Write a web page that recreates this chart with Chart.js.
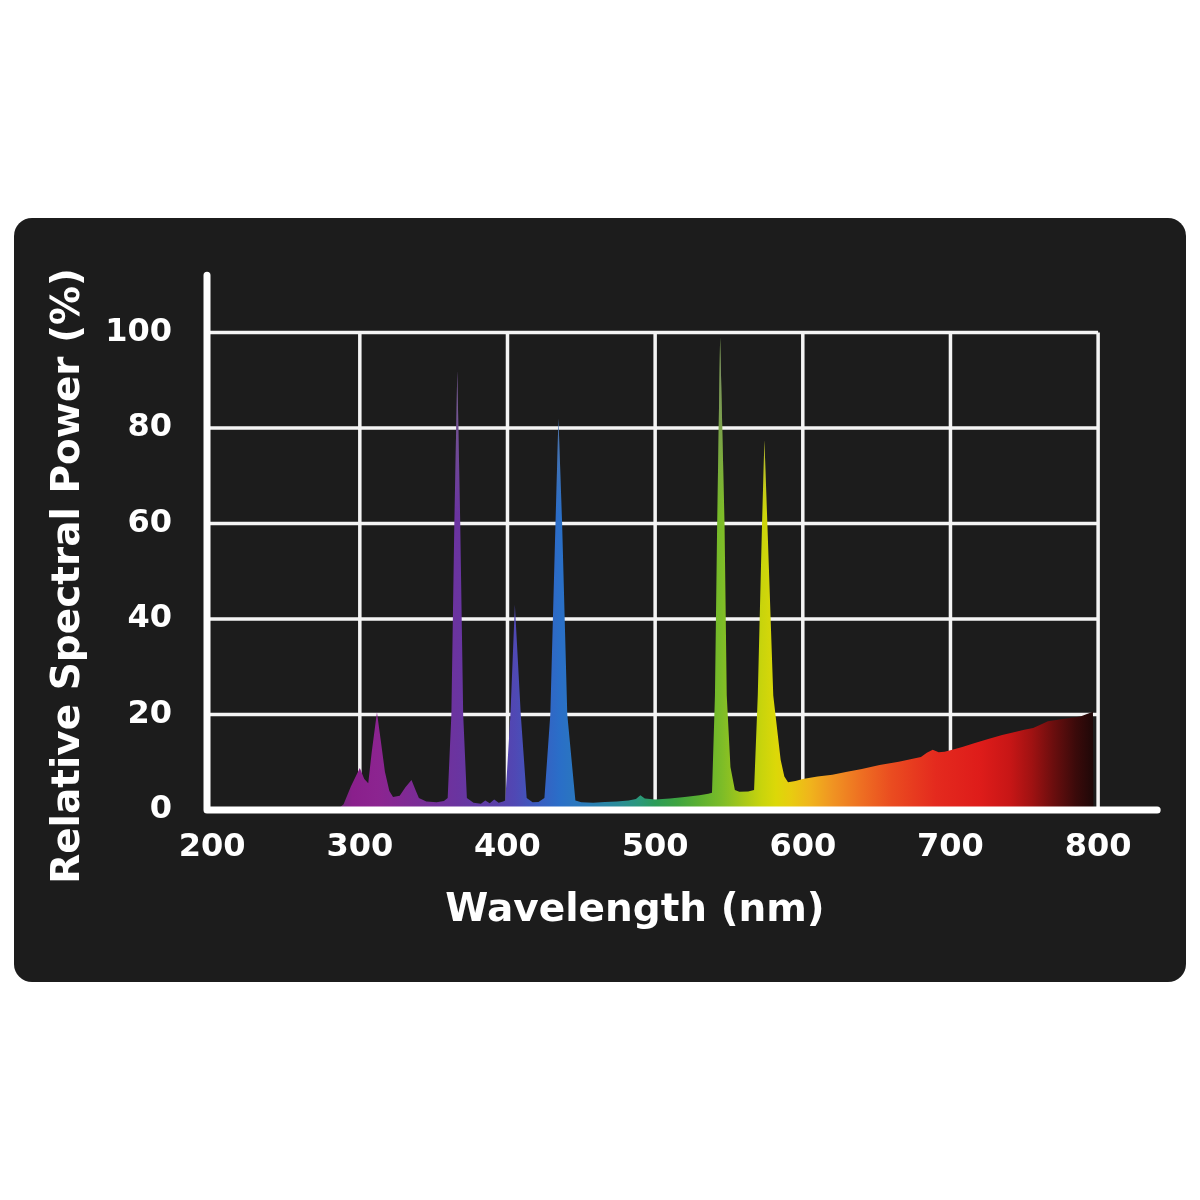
<!DOCTYPE html>
<html>
<head>
<meta charset="utf-8">
<script src="https://cdn.jsdelivr.net/npm/chart.js@4.4.1/dist/chart.umd.min.js"></script>
<style>
  html, body { margin: 0; padding: 0; background: #ffffff; overflow: hidden; }
  canvas { display: block; }
</style>
</head>
<body>
<canvas id="spectrumGraph" width="1200" height="1200"></canvas>
<script>
// spectrum: wavelength (nm) -> relative power (%)
const wavelengths = [
    200, 240, 280, 286, 289, 294, 300, 303, 305.7, 308, 311.6, 314, 317, 320, 322.5,
    327, 331, 335, 338, 340, 345, 352, 357,
    359.5, 362, 364, 366, 368, 370, 372.5,
    377, 382, 385, 388, 391, 394, 397,
    398.5, 402, 405, 409, 413, 417, 421,
    425, 429, 432.5, 434.5, 437, 440.5, 446,
    450, 458, 466, 474, 482, 487, 490, 493, 500, 510, 520, 530, 536,
    538.5, 540.5, 542, 544, 547, 548.5, 551, 554,
    557, 563, 567, 569.5, 572.4, 574, 576, 580, 585, 587.5, 590,
    595, 600, 610, 620, 630, 640, 652, 665, 680, 684, 688, 692, 696, 700,
    708, 716, 725, 735, 743, 750, 756, 762, 766, 775, 782, 788, 796.5, 797
];
const power = [
    0.2, 0.3, 0.4, 0.4, 1.2, 5, 8.8, 6.5, 5.6, 12, 20.5, 15, 8, 4, 2.7,
    3, 4.8, 6.3, 4, 2.5, 1.8, 1.6, 1.9,
    2.5, 20, 60, 92, 60, 20, 2.5,
    1.5, 1.3, 2, 1.4, 2.2, 1.5, 1.8,
    2, 20, 43, 20, 2.5, 1.6, 1.7,
    2.5, 20, 60, 82, 60, 20, 2,
    1.6, 1.5, 1.7, 1.8, 2, 2.3, 3.1, 2.4, 2.2, 2.4, 2.7, 3.1, 3.4,
    3.6, 24, 60, 99, 60, 24, 9, 4.2,
    3.8, 3.9, 4.2, 24, 60, 77.5, 60, 24, 10.5, 7, 5.8,
    6.1, 6.5, 7, 7.4, 8, 8.6, 9.4, 10.1, 11.1, 12, 12.6, 12.1, 12.2, 12.5,
    13.2, 14, 14.8, 15.7, 16.3, 16.8, 17.2, 18, 18.6, 19, 19.3, 19.6, 20.6, 0
];

const xTicks = [200, 300, 400, 500, 600, 700, 800];
const yTicks = [0, 20, 40, 60, 80, 100];

// colour of the fill along the wavelength axis
const spectrumStops = [285, 295, 312, 340, 366, 390, 405, 420, 435, 455, 475, 490, 500, 515, 530, 545,
    560, 572, 582, 592, 605, 620, 640, 660, 690, 720, 740, 755, 770, 785, 797];
const spectrumColors = ['#6b2a7a', '#8a1f8c', '#8c2490', '#7a2c96', '#6a34a0', '#5c3ea8', '#5048b4',
    '#3a5cc0', '#2a6ec8', '#2a7eb8', '#2a8c98', '#2a9878', '#2c9c58', '#3ea440', '#5cb030', '#7cbc28',
    '#a8c818', '#c8d40c', '#dcd808', '#e8cc10', '#f0b41c', '#f09422', '#ee6e22', '#ea4c20', '#e42a1e',
    '#de1c1a', '#c81616', '#a01212', '#6a0e0e', '#3a0a0a', '#1e0808'];

const xMin = 196.5;
const xMax = 869;
const yMax = 124;
const axisTop = 112;
const axisRight = 840;

const points = wavelengths.map((w, i) => ({x: w, y: power[i]}));

Chart.defaults.font.family = "'DejaVu Sans', sans-serif";
Chart.defaults.color = '#ffffff';

const cardBackground = {
    id: 'cardBackground',
    beforeDraw(chart) {
        const ctx = chart.ctx;
        ctx.save();
        ctx.fillStyle = '#1c1c1c';
        ctx.beginPath();
        ctx.roundRect(14, 218, 1172, 764, 18);
        ctx.fill();
        ctx.restore();
    }
};

// white grid boxed in 200-800 / 0-100, under the spectrum
const gridBox = {
    id: 'gridBox',
    beforeDatasetsDraw(chart) {
        const {ctx, scales: {x, y}} = chart;
        ctx.save();
        ctx.strokeStyle = '#f4f4f4';
        ctx.lineWidth = 3.5;
        ctx.beginPath();
        yTicks.slice(1).forEach(v => {
            ctx.moveTo(x.getPixelForValue(xMin), y.getPixelForValue(v));
            ctx.lineTo(x.getPixelForValue(800), y.getPixelForValue(v));
        });
        xTicks.slice(1).forEach(v => {
            ctx.moveTo(x.getPixelForValue(v), y.getPixelForValue(0));
            ctx.lineTo(x.getPixelForValue(v), y.getPixelForValue(100));
        });
        ctx.stroke();
        ctx.restore();
    }
};

// the two thick axis lines, on top
const axisLines = {
    id: 'axisLines',
    afterDatasetsDraw(chart) {
        const {ctx, scales: {x, y}} = chart;
        ctx.save();
        ctx.strokeStyle = '#ffffff';
        ctx.lineWidth = 7;
        ctx.lineCap = 'round';
        ctx.lineJoin = 'round';
        ctx.beginPath();
        ctx.moveTo(x.getPixelForValue(xMin), y.getPixelForValue(axisTop));
        ctx.lineTo(x.getPixelForValue(xMin), y.getPixelForValue(0));
        ctx.lineTo(x.getPixelForValue(axisRight), y.getPixelForValue(0));
        ctx.stroke();
        ctx.restore();
    }
};

function spectrumFill(context) {
    const {ctx, chartArea, scales} = context.chart;
    if (!chartArea) {
        return 'rgba(0,0,0,0)';
    }
    const first = spectrumStops[0];
    const last = spectrumStops[spectrumStops.length - 1];
    const g = ctx.createLinearGradient(scales.x.getPixelForValue(first), 0, scales.x.getPixelForValue(last), 0);
    spectrumStops.forEach((w, i) => {
        g.addColorStop((w - first) / (last - first), spectrumColors[i]);
    });
    return g;
}

// the thin tips of the lines fade to grey
function tipFade(context) {
    const {ctx, chartArea, scales} = context.chart;
    if (!chartArea) {
        return 'rgba(0,0,0,0)';
    }
    const g = ctx.createLinearGradient(0, scales.y.getPixelForValue(100), 0, scales.y.getPixelForValue(62));
    g.addColorStop(0, 'rgba(125,125,125,0.85)');
    g.addColorStop(1, 'rgba(125,125,125,0)');
    return g;
}

const spectrumChart = new Chart(document.getElementById('spectrumGraph'), {
    type: 'line',
    data: {
        datasets: [{
            data: points,
            fill: 'origin',
            backgroundColor: spectrumFill,
            borderWidth: 0,
            pointRadius: 0,
            tension: 0,
            order: 2
        },
        {
            data: points,
            fill: 'origin',
            backgroundColor: tipFade,
            borderWidth: 0,
            pointRadius: 0,
            tension: 0,
            order: 1
        }]
    },
    options: {
        responsive: false,
        animation: false,
        layout: {
            // right side negative so the bottom title centres under the grid
            padding: {top: 218, bottom: 266, left: 45, right: -25}
        },
        plugins: {
            legend: {display: false},
            tooltip: {enabled: false},
            title: {
                display: true,
                position: 'left',
                text: 'Relative Spectral Power (%)',
                color: '#ffffff',
                font: {size: 39, weight: 'bold', lineHeight: 1.2},
                padding: 0
            },
            subtitle: {
                display: true,
                position: 'bottom',
                text: 'Wavelength (nm)',
                color: '#ffffff',
                font: {size: 39, weight: 'bold', lineHeight: 1.2},
                padding: 0
            }
        },
        scales: {
            x: {
                type: 'linear',
                min: xMin,
                max: xMax,
                afterBuildTicks: scale => {
                    scale.ticks = xTicks.map(v => ({value: v}));
                },
                afterFit: scale => {
                    scale.height = 77.2;
                },
                grid: {display: false, drawTicks: false},
                border: {display: false},
                ticks: {
                    padding: 18,
                    color: '#ffffff',
                    maxRotation: 0,
                    font: {size: 32, weight: 'bold'}
                }
            },
            y: {
                min: 0,
                max: yMax,
                afterBuildTicks: scale => {
                    scale.ticks = yTicks.map(v => ({value: v}));
                },
                afterFit: scale => {
                    scale.width = 115.2;
                },
                grid: {display: false, drawTicks: false},
                border: {display: false},
                ticks: {
                    padding: 35,
                    color: '#ffffff',
                    font: {size: 32, weight: 'bold'}
                }
            }
        }
    },
    plugins: [cardBackground, gridBox, axisLines]
});
</script>
</body>
</html>
